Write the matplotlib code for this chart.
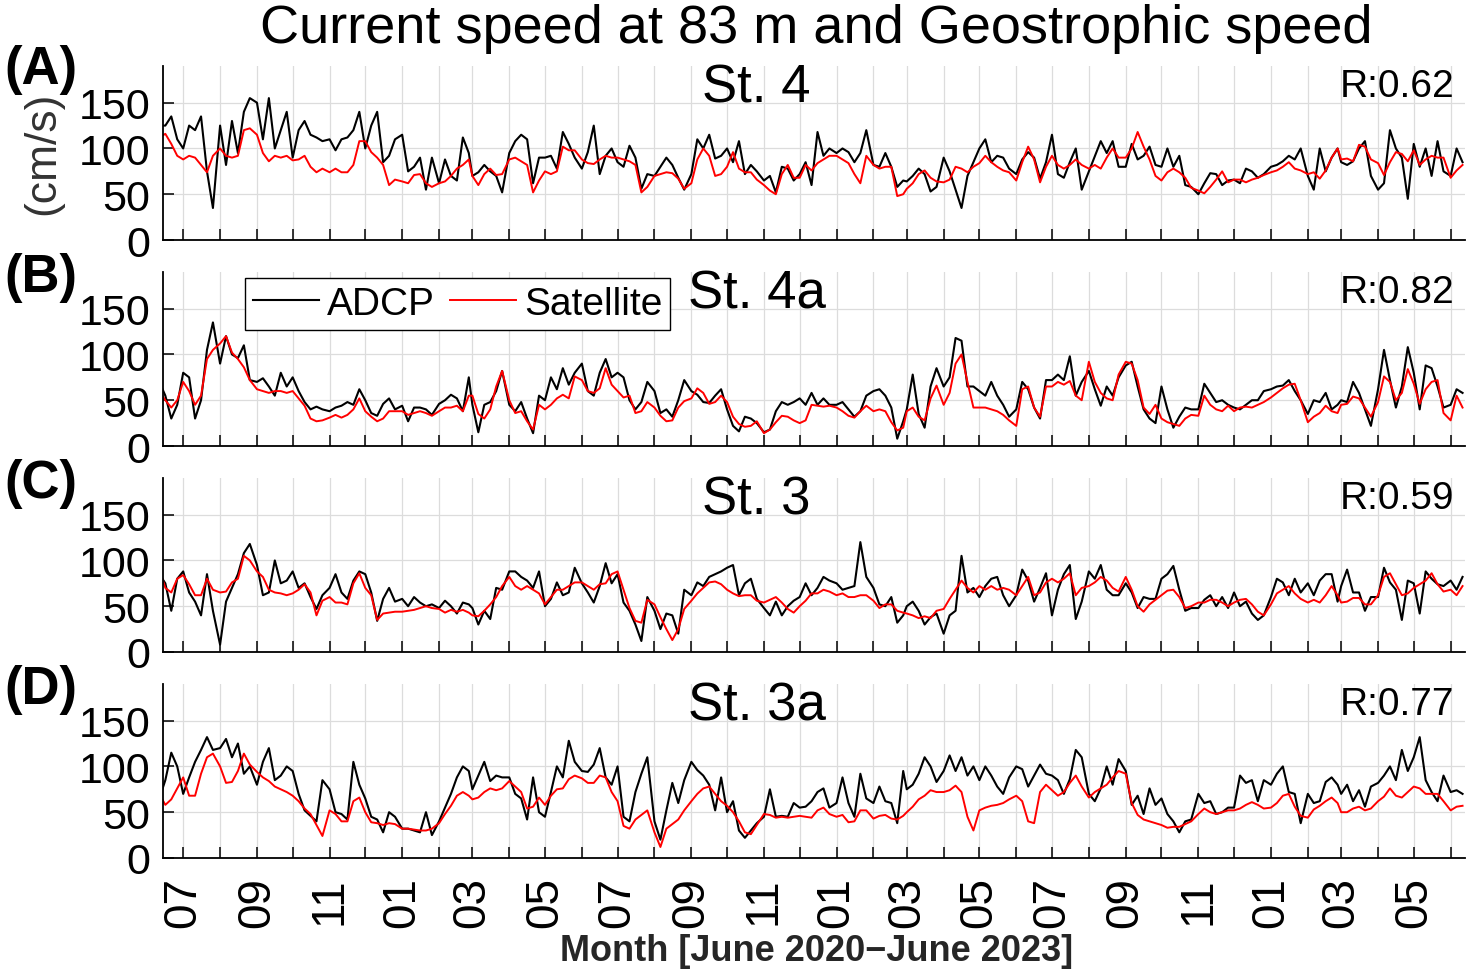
import datetime as dt
import matplotlib
matplotlib.use('Agg')
import matplotlib.pyplot as plt
import matplotlib.dates as mdates
from matplotlib.ticker import FuncFormatter
import pandas as pd

plt.rcParams['font.family'] = ['Liberation Sans', 'DejaVu Sans']

# sampling: every 5 days inside each month (1, 6, 11, 16, 21, 26)
months = pd.period_range('2020-06', '2023-06', freq='M')
dates = [pd.Timestamp(p.year, p.month, d) for p in months for d in (1, 6, 11, 16, 21, 26)]
dates = [d for d in dates if pd.Timestamp(2020, 6, 11) <= d <= pd.Timestamp(2023, 6, 11)]

stations = ['St. 4', 'St. 4a', 'St. 3', 'St. 3a']
panel_labels = ['(A)', '(B)', '(C)', '(D)']
r_values = ['R:0.62', 'R:0.82', 'R:0.59', 'R:0.77']

# speeds in cm/s, one row per month (Jun 2020 ... Jun 2023)
st4_adcp = [125, 125, 135, 110,
            100, 125, 120, 135, 75, 35,
            125, 82, 130, 95, 140, 155,
            150, 110, 155, 100, 120, 140,
            90, 120, 130, 115, 112, 108,
            110, 98, 110, 112, 120, 140,
            100, 125, 140, 85, 92, 110,
            115, 75, 80, 90, 55, 90,
            62, 88, 70, 65, 112, 95,
            70, 74, 82, 75, 70, 52,
            95, 108, 115, 110, 62, 90,
            90, 92, 78, 118, 105, 90,
            78, 96, 125, 72, 92, 100,
            85, 80, 103, 90, 56, 72,
            70, 80, 90, 82, 68, 55,
            72, 110, 100, 115, 89, 92,
            100, 85, 108, 72, 82, 75,
            65, 70, 52, 80, 78, 65,
            72, 85, 60, 118, 92, 100,
            95, 100, 96, 85, 95, 120,
            82, 80, 95, 80, 58, 65,
            64, 70, 78, 72, 53, 58,
            90, 75, 55, 35, 70, 85,
            100, 110, 85, 92, 90, 78,
            72, 88, 96, 90, 67, 85,
            115, 72, 68, 85, 100, 55,
            75, 92, 108, 95, 108, 80,
            80, 105, 88, 92, 102, 82,
            80, 100, 80, 92, 60, 58,
            50, 62, 73, 72, 60, 65,
            66, 62, 78, 75, 68, 72,
            80, 82, 86, 92, 88, 100,
            70, 55, 100, 75, 90, 100,
            85, 82, 86, 100, 108, 70,
            55, 62, 120, 100, 90, 45,
            105, 80, 100, 70, 108, 75,
            70, 100, 85]
st4_sat = [112, 116, 105, 92,
           88, 92, 90, 82, 74, 92,
           100, 92, 90, 92, 120, 122,
           115, 95, 86, 92, 90, 92,
           87, 88, 92, 80, 74, 78,
           74, 78, 74, 74, 82, 108,
           108, 96, 90, 82, 60, 66,
           64, 62, 71, 72, 62, 58,
           62, 64, 70, 78, 82, 88,
           70, 60, 72, 78, 71, 72,
           88, 90, 86, 82, 52, 65,
           75, 72, 75, 102, 98, 98,
           88, 84, 83, 88, 92, 90,
           90, 88, 86, 82, 52, 58,
           70, 72, 74, 73, 67, 56,
           62, 88, 100, 92, 70, 72,
           80, 96, 78, 74, 74, 66,
           60, 54, 50, 72, 82, 68,
           68, 82, 76, 84, 88, 92,
           92, 88, 84, 72, 62, 92,
           82, 78, 80, 80, 48, 50,
           56, 62, 72, 76, 68, 64,
           63, 66, 80, 78, 74, 80,
           84, 92, 85, 80, 76, 74,
           65, 85, 102, 88, 63, 80,
           92, 82, 78, 82, 88, 82,
           78, 82, 78, 90, 100, 90,
           90, 100, 118, 102, 88, 70,
           65, 74, 78, 74, 68, 57,
           54, 51, 58, 66, 75, 63,
           66, 66, 63, 66, 68, 71,
           74, 76, 80, 85, 78, 76,
           72, 74, 67, 76, 90, 100,
           88, 89, 86, 104, 102, 88,
           84, 71, 85, 96, 94, 86,
           98, 82, 88, 92, 90, 90,
           68, 76, 82]

st4a_adcp = [70, 55, 30, 45,
             80, 75, 30, 50, 105, 135,
             90, 120, 100, 96, 110, 72,
             70, 74, 65, 55, 80, 65,
             75, 60, 48, 40, 43, 40,
             38, 42, 44, 48, 45, 62,
             50, 36, 33, 46, 52, 40,
             44, 27, 42, 42, 40, 34,
             46, 50, 56, 52, 38, 75,
             45, 15, 45, 48, 60, 82,
             45, 38, 48, 30, 14, 55,
             50, 75, 62, 85, 67, 80,
             90, 60, 55, 80, 95, 75,
             80, 75, 50, 40, 48, 70,
             60, 36, 40, 32, 50, 72,
             60, 56, 48, 47, 55, 62,
             40, 22, 16, 32, 30, 25,
             15, 18, 38, 48, 45, 48,
             52, 45, 58, 45, 52, 45,
             45, 48, 40, 32, 38, 55,
             60, 62, 55, 42, 8, 27,
             40, 78, 35, 20, 65, 85,
             65, 75, 118, 115, 65, 65,
             60, 55, 70, 55, 45, 32,
             40, 70, 62, 42, 30, 72,
             72, 78, 72, 98, 55, 70,
             82, 62, 44, 65, 55, 75,
             88, 92, 65, 40, 30, 25,
             65, 40, 20, 32, 42, 40,
             40, 68, 58, 48, 50, 45,
             42, 40, 45, 50, 50, 60,
             62, 65, 66, 72, 60, 50,
             35, 50, 48, 58, 40, 45,
             50, 48, 70, 58, 40, 22,
             62, 105, 72, 42, 65, 108,
             80, 40, 88, 85, 65, 42,
             45, 62, 58]
st4a_sat = [60, 50, 42, 50,
            70, 60, 45, 55, 95, 105,
            112, 120, 102, 95, 86, 72,
            62, 60, 58, 60, 60, 58,
            60, 52, 44, 30, 27, 28,
            31, 34, 31, 34, 40, 52,
            38, 32, 27, 30, 38, 38,
            38, 34, 36, 38, 36, 33,
            38, 42, 42, 44, 38, 55,
            55, 35, 30, 40, 65, 82,
            50, 36, 38, 27, 18, 45,
            40, 45, 52, 56, 52, 76,
            72, 60, 58, 63, 85, 67,
            60, 53, 55, 36, 38, 48,
            42, 33, 27, 28, 42, 49,
            52, 63, 58, 46, 48, 55,
            48, 32, 24, 21, 22, 27,
            14, 18, 26, 33, 32, 28,
            25, 28, 45, 44, 43, 44,
            42, 38, 33, 31, 38, 44,
            38, 40, 38, 26, 17, 20,
            38, 42, 32, 28, 52, 66,
            45, 58, 90, 100, 70, 42,
            42, 42, 40, 38, 34, 28,
            22, 62, 65, 42, 32, 65,
            65, 70, 67, 71, 55, 50,
            92, 70, 58, 52, 50, 78,
            92, 90, 72, 42, 35, 45,
            30, 26, 24, 22, 30, 34,
            33, 55, 45, 40, 38, 44,
            38, 42, 43, 42, 45, 48,
            53, 58, 63, 67, 68, 50,
            26, 32, 36, 44, 38, 36,
            45, 46, 54, 52, 42, 32,
            48, 76, 70, 50, 58, 84,
            68, 46, 62, 70, 72, 36,
            28, 55, 42]

st3_adcp = [85, 75, 45, 80,
            88, 65, 55, 40, 85, 45,
            8, 55, 70, 85, 108, 118,
            95, 62, 65, 100, 75, 78,
            88, 70, 75, 60, 47, 62,
            70, 85, 65, 58, 78, 88,
            85, 65, 34, 58, 70, 55,
            58, 50, 60, 54, 50, 52,
            48, 56, 50, 42, 54, 52,
            48, 30, 45, 36, 70, 68,
            88, 88, 82, 78, 70, 88,
            50, 58, 76, 62, 65, 92,
            75, 65, 54, 72, 97, 75,
            85, 54, 45, 30, 12, 60,
            45, 25, 42, 40, 20, 68,
            62, 76, 72, 82, 85, 88,
            92, 95, 62, 75, 80, 58,
            48, 40, 55, 40, 50, 56,
            60, 75, 62, 70, 82, 78,
            75, 68, 70, 72, 120, 82,
            70, 52, 50, 60, 32, 40,
            50, 55, 45, 30, 38, 42,
            20, 40, 45, 105, 65, 70,
            60, 72, 80, 82, 62, 50,
            62, 90, 78, 55, 70, 86,
            40, 68, 85, 95, 36, 55,
            88, 80, 95, 68, 62, 62,
            75, 65, 48, 60, 58, 58,
            80, 85, 94, 68, 45, 48,
            48, 57, 62, 50, 60, 48,
            65, 50, 55, 42, 35, 40,
            60, 80, 76, 62, 80, 65,
            75, 62, 78, 85, 85, 55,
            72, 90, 65, 65, 45, 60,
            60, 92, 76, 68, 35, 78,
            75, 42, 88, 80, 74, 72,
            78, 68, 82]
st3_sat = [90, 70, 65, 80,
           84, 74, 62, 62, 80, 68,
           65, 66, 76, 80, 105, 100,
           88, 82, 68, 65, 64, 62,
           64, 68, 74, 65, 40, 56,
           60, 54, 54, 52, 75, 86,
           70, 62, 35, 42, 43, 44,
           44, 45, 46, 48, 50, 48,
           47, 43, 46, 44, 46, 43,
           40, 39, 45, 52, 60, 72,
           82, 72, 68, 72, 68, 64,
           52, 60, 68, 68, 72, 76,
           76, 72, 68, 74, 75, 85,
           88, 68, 48, 34, 32, 57,
           52, 38, 25, 13, 25, 47,
           56, 64, 70, 76, 77, 74,
           68, 64, 61, 62, 62, 56,
           54, 57, 60, 54, 47, 43,
           50, 56, 64, 64, 68, 66,
           62, 64, 60, 60, 62, 62,
           56, 48, 52, 52, 45, 43,
           42, 40, 37, 39, 37, 45,
           47, 58, 68, 78, 70, 65,
           72, 68, 72, 68, 70, 68,
           62, 72, 82, 62, 65, 76,
           80, 76, 80, 86, 62, 70,
           72, 76, 82, 78, 70, 66,
           82, 68, 50, 44, 52, 57,
           62, 67, 68, 60, 48, 50,
           54, 54, 57, 57, 54, 50,
           54, 57, 58, 52, 44, 40,
           52, 64, 68, 72, 64, 58,
           54, 57, 54, 62, 72, 62,
           54, 55, 59, 59, 52, 52,
           62, 82, 86, 74, 62, 64,
           70, 74, 78, 86, 74, 66,
           68, 62, 72]

st3a_adcp = [65, 85, 115, 100,
             70, 88, 105, 118, 132, 118,
             120, 130, 110, 125, 92, 100,
             80, 105, 120, 85, 90, 100,
             95, 70, 52, 46, 40, 85,
             75, 50, 48, 42, 105, 80,
             65, 45, 42, 28, 50, 45,
             32, 32, 30, 28, 50, 25,
             40, 55, 70, 88, 100, 95,
             75, 90, 105, 84, 90, 88,
             88, 70, 65, 42, 88, 50,
             45, 72, 100, 88, 128, 105,
             95, 94, 102, 120, 88, 80,
             100, 45, 40, 72, 92, 110,
             40, 20, 52, 82, 60, 85,
             105, 96, 90, 80, 52, 88,
             50, 62, 30, 22, 30, 38,
             45, 75, 45, 46, 45, 60,
             55, 56, 62, 72, 76, 55,
             60, 88, 60, 45, 92, 65,
             60, 78, 62, 60, 38, 95,
             75, 80, 92, 110, 100, 83,
             95, 112, 95, 110, 90, 100,
             85, 100, 90, 78, 70, 88,
             100, 97, 78, 90, 102, 92,
             90, 85, 70, 86, 118, 110,
             70, 62, 76, 100, 80, 108,
             95, 58, 68, 48, 76, 58,
             65, 48, 40, 28, 40, 42,
             70, 60, 62, 48, 50, 55,
             55, 90, 82, 85, 62, 85,
             80, 92, 100, 72, 70, 38,
             70, 60, 62, 83, 88, 80,
             70, 80, 62, 74, 56, 78,
             82, 90, 100, 85, 118, 95,
             110, 132, 85, 72, 62, 90,
             72, 74, 70]
st3a_sat = [70, 58, 64, 76,
            88, 68, 68, 92, 110, 114,
            100, 82, 83, 95, 114, 102,
            94, 88, 84, 78, 75, 72,
            68, 62, 54, 48, 36, 24,
            52, 48, 40, 40, 62, 66,
            50, 39, 38, 36, 38, 37,
            32, 32, 31, 30, 30, 32,
            38, 48, 57, 68, 72, 68,
            64, 66, 72, 76, 74, 76,
            84, 78, 72, 54, 56, 66,
            58, 68, 75, 76, 86, 90,
            87, 82, 82, 90, 88, 72,
            62, 35, 32, 42, 47, 52,
            28, 12, 32, 37, 42, 52,
            62, 70, 76, 78, 70, 62,
            57, 50, 40, 28, 26, 36,
            48, 47, 44, 45, 44, 45,
            46, 45, 44, 52, 55, 48,
            45, 47, 39, 40, 52, 52,
            43, 46, 47, 43, 42, 46,
            50, 56, 64, 68, 74, 72,
            72, 74, 79, 72, 45, 30,
            52, 55, 57, 58, 60, 64,
            68, 62, 40, 38, 72, 80,
            74, 68, 72, 82, 90, 78,
            66, 72, 76, 80, 88, 95,
            92, 60, 47, 42, 40, 38,
            36, 33, 34, 34, 37, 40,
            48, 54, 50, 48, 50, 52,
            52, 54, 58, 61, 58, 54,
            55, 60, 68, 70, 56, 46,
            44, 53, 57, 62, 66, 60,
            50, 50, 54, 56, 52, 54,
            62, 67, 76, 68, 66, 72,
            78, 76, 70, 70, 70, 62,
            52, 56, 57]

adcp_all = [st4_adcp, st4a_adcp, st3_adcp, st3a_adcp]
sat_all = [st4_sat, st4a_sat, st3_sat, st3a_sat]

fig = plt.figure(figsize=(14.76, 9.79), dpi=100)
bottoms = [0.7538, 0.5434, 0.3330, 0.1226]
label_y = [0.929, 0.716, 0.5056, 0.2952]


def month_label(x, pos):
    d = mdates.num2date(x)
    return d.strftime('%m') if d.month % 2 == 1 else ''


for i in range(4):
    ax = fig.add_axes([0.1104, bottoms[i], 0.8821, 0.1777])
    l1, = ax.plot(dates, adcp_all[i], color='black', lw=1.5, label='ADCP')
    l2, = ax.plot(dates, sat_all[i], color='#ff0000', lw=1.4, label='Satellite')
    ax.set_xlim(dt.datetime(2020, 6, 14), dt.datetime(2023, 6, 13))
    ax.set_ylim(0, 190)
    ax.set_yticks([0, 50, 100, 150])
    ax.xaxis.set_major_locator(mdates.MonthLocator())
    ax.xaxis.set_major_formatter(FuncFormatter(month_label))
    ax.grid(True, color='#dcdcdc', lw=0.9)
    ax.set_axisbelow(True)
    for s in ['top', 'right']:
        ax.spines[s].set_visible(False)
    for s in ['left', 'bottom']:
        ax.spines[s].set_linewidth(1.3)
    ax.tick_params(direction='in', length=8, width=1.1, labelsize=31)
    ax.tick_params(axis='y', pad=9)
    ax.tick_params(axis='x', pad=13, labelsize=33, labelrotation=90)
    if i < 3:
        ax.tick_params(axis='x', labelbottom=False)

    ax.text(0.456, 0.875, stations[i], transform=ax.transAxes,
            ha='center', va='center', fontsize=38)
    ax.text(0.992, 0.885, r_values[i], transform=ax.transAxes,
            ha='right', va='center', fontsize=28)
    fig.text(0.003, label_y[i], panel_labels[i], fontsize=38,
             fontweight='bold', ha='left', va='center')

    if i == 1:
        leg = ax.legend(handles=[l1, l2], loc='upper left', bbox_to_anchor=(0.063, 0.966),
                        ncol=2, fontsize=28, handlelength=1.7, handletextpad=0.2,
                        columnspacing=0.4, borderpad=0.2, borderaxespad=0,
                        fancybox=False, edgecolor='black', framealpha=1)
        leg.get_frame().set_linewidth(1.0)

fig.text(0.553, 0.970, 'Current speed at 83 m and Geostrophic speed',
         ha='center', va='center', fontsize=39)
fig.text(0.029, 0.843, '(cm/s)', rotation=90, ha='center', va='center',
         fontsize=32, color='#333333')
fig.text(0.553, 0.0276, 'Month [June 2020\u2212June 2023]', ha='center', va='center',
         fontsize=26, fontweight='bold', color='#262626')

fig.savefig('out.png', dpi=100)
